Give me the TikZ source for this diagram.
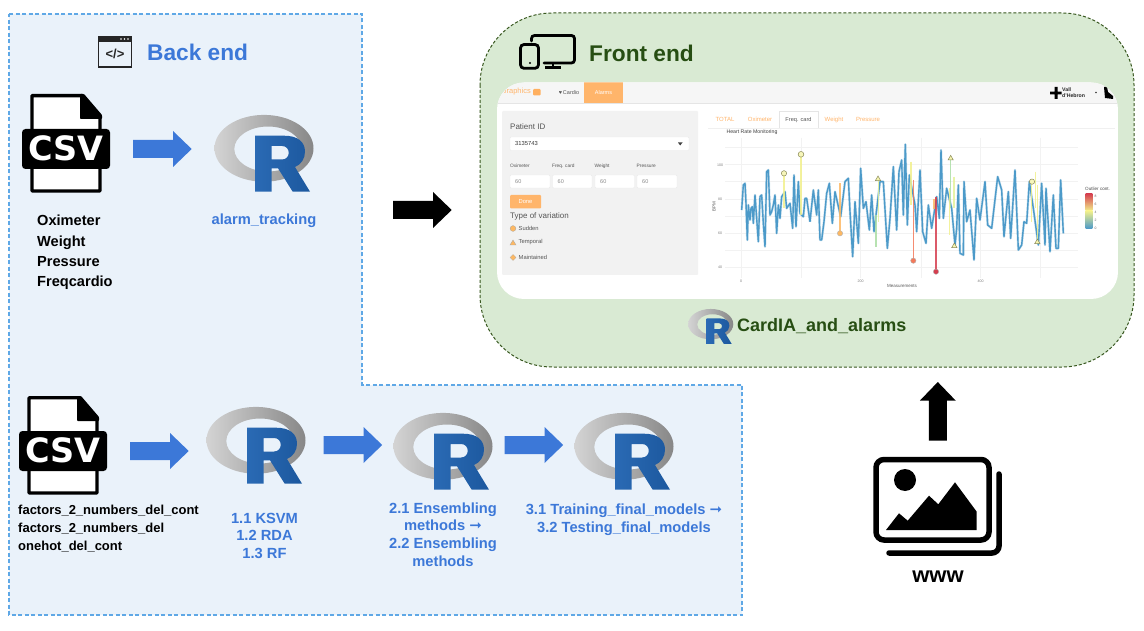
\documentclass[tikz,border=0pt]{standalone}
\usepackage{fontspec}
\setmainfont{Liberation Sans}
\newfontfamily\dejavu{DejaVu Sans}
\usetikzlibrary{shapes.geometric}
\definecolor{backfill}{HTML}{EAF2FA}
\definecolor{backedge}{HTML}{5FA8E6}
\definecolor{frontfill}{HTML}{D9EAD3}
\definecolor{frontedge}{HTML}{38571F}
\definecolor{arrowblue}{HTML}{3C78D8}
\definecolor{darkgreen}{HTML}{274E13}
\definecolor{navorange}{HTML}{FFB56B}
\definecolor{rblue}{HTML}{1F62B0}
\definecolor{shotgrey}{HTML}{555555}
\definecolor{linecol}{HTML}{4C9AC9}
\definecolor{spikeyellow}{HTML}{F2F08C}
\definecolor{spikelime}{HTML}{E4F19A}
\definecolor{spikegreen}{HTML}{ABDDA4}
\definecolor{spikeorange}{HTML}{FDB863}
\definecolor{spikecoral}{HTML}{F4795A}
\definecolor{spikered}{HTML}{D53E4F}
\definecolor{markedge}{HTML}{8A8A5A}
\newcommand{\fs}[1]{\fontsize{#1}{#1}\selectfont}
\newcommand{\fsl}[2]{\fontsize{#1}{#2}\selectfont}
\newcommand{\seriesA}{(755,405)(760,330)(765,325)(768,385)(772,495)(775,390)(780,435)(783,400)(787,395)(790,445)(795,360)(800,430)(805,500)(810,365)(815,360)(820,445)(825,515)(830,290)(835,285)(840,420)(845,410)(850,390)(855,360)(860,475)(865,390)(870,430)(875,365)(885,350)(890,400)(900,385)(908,460)(912,300)(918,455)(925,320)(930,415)(940,425)(945,370)(950,370)(960,440)}
\tikzset{
  panelback/.style={fill=backfill,draw=backedge,line width=1.1pt,dash pattern=on 4pt off 2.5pt},
  panelfront/.style={fill=frontfill,draw=frontedge,line width=1pt,dash pattern=on 3pt off 2pt},
  bluetext/.style={inner sep=0pt,text=arrowblue,align=center},
  blacktext/.style={inner sep=0pt,text=black,align=left},
  shottext/.style={inner sep=0pt,text=shotgrey,font=\fs{6}},
  shottab/.style={inner sep=0pt,text=navorange,font=\fs{6}},
  inputbox/.style={fill=white,draw=black!8,line width=.4pt,rounded corners=1pt},
  spike/.style={line width=1.3pt,opacity=.85},
  blockarrow/.pic={\fill[#1] (0,-9) -- (40,-9) -- (40,-18) -- (58.7,0) -- (40,18) -- (40,9) -- (0,9) -- cycle;},
  csvicon/.pic={
    \draw[black,line width=3.4pt,line join=round,fill=white] (10,1.7) -- (60,1.7) -- (78,22) -- (78,97) -- (10,97) -- cycle;
    \fill[black,rounded corners=.8pt] (58,0) -- (62,0) -- (80,21) -- (80,25) -- (58,25) -- cycle;
    \fill[black,rounded corners=3.5pt] (0,35) rectangle (88,75);
    \node[inner sep=0pt,text=white,font=\dejavu\fs{33.5}\bfseries] at (44,54.5) {CSV};
  },
  rlogo/.pic={
    \path[even odd rule,left color=black!17,right color=black!47]
      (50,33.3) ellipse [x radius=49.5,y radius=33.4]
      (54,34) ellipse [x radius=33.7,y radius=22.5];
    \path[even odd rule,left color=rblue!95!white,right color=rblue!90!black]
      (41,20.7) -- (70,20.7) .. controls (84,20.7) and (91,27) .. (91,36.7)
      .. controls (91,44) and (87,49.5) .. (81,52) -- (96,76.7) -- (78.7,76.7) -- (64,53.3)
      -- (57.7,53.3) -- (57.7,76.7) -- (41,76.7) -- cycle
      (57.7,31) -- (68,31) .. controls (77,31) and (77,44.5) .. (68,44.5) -- (57.7,44.5) -- cycle;
  },
}
\begin{document}
\begin{tikzpicture}[x=1pt,y=-1pt]
\useasboundingbox (0,0) rectangle (1144,631);
\fill[white] (0,0) rectangle (1144,631);
% panels
\path[panelback] (9,14) -- (362,14) -- (362,385) -- (742,385) -- (742,615) -- (9,615) -- cycle;
\path[panelfront,rounded corners=72pt] (480,13) rectangle (1134,367);
% back-end heading icon
\draw[black!85,line width=1.8pt,fill=backfill] (98.5,37) rectangle (131.5,67);
\fill[black!85] (98.5,37) rectangle (131.5,42.3);
\fill[white] (121,39) circle (.9) (124.5,39) circle (.9) (128,39) circle (.9);
\node[inner sep=0pt,font=\fs{13}\bfseries,text=black!85] (codetag) at (115,54) {</>};
\node[inner sep=0pt,font=\fs{22.7}\bfseries,text=arrowblue,anchor=west] (backtitle) at (147,52.5) {Back end};
% front-end heading icon
\draw[black,line width=2.8pt,line cap=round,rounded corners=3pt] (531.5,41) -- (531.5,35.5) -- (574.5,35.5) -- (574.5,63) -- (544,63);
\draw[black,line width=2.8pt,rounded corners=3.5pt,fill=frontfill] (520.5,44.5) rectangle (538.5,68.3);
\fill[black] (530,63) circle (1.2);
\draw[black,line width=2.6pt] (545,67.7) -- (561,67.7) (553,63) -- (553,67.7);
\node[inner sep=0pt,font=\fs{22.7}\bfseries,text=darkgreen,anchor=west] (fronttitle) at (589,53) {Front end};
% back-end top row
\pic (csvA) at (22,94) {csvicon};
\pic (arrA) at (133,149) {blockarrow=arrowblue};
\pic (logoA) at (214,115) {rlogo};
\node[blacktext,anchor=west,font=\fsl{14.6}{20.3}\bfseries] (vars) at (37,252.5) {Oximeter\\Weight\\Pressure\\Freqcardio};
\node[bluetext,font=\fs{14.7}\bfseries] (alarmtrack) at (264,221) {alarm\_tracking};
% back-end bottom row
\pic (csvB) at (19,396) {csvicon};
\pic (arrB) at (130,451) {blockarrow=arrowblue};
\pic (logoB) at (206,407) {rlogo};
\pic (arrC) at (323.5,445) {blockarrow=arrowblue};
\pic (logoC) at (393,413) {rlogo};
\pic (arrD) at (504.5,445) {blockarrow=arrowblue};
\pic (logoD) at (574,413) {rlogo};
\node[blacktext,anchor=west,font=\fsl{13}{17.7}\bfseries] (factors) at (18,528.5) {factors\_2\_numbers\_del\_cont\\factors\_2\_numbers\_del\\onehot\_del\_cont};
\node[bluetext,font=\fsl{14.7}{17.5}\bfseries] (methodsA) at (264.5,535.5) {1.1 KSVM\\1.2 RDA\\1.3 RF};
\node[bluetext,font=\fsl{14.7}{17.7}\bfseries] (methodsB) at (443,534.5) {2.1 Ensembling\\methods {\dejavu\fs{15}➞}\\2.2 Ensembling\\methods};
\node[bluetext,font=\fsl{14.7}{18}\bfseries] (methodsC) at (624,520) {3.1 Training\_final\_models {\dejavu\fs{15}➞}\\3.2 Testing\_final\_models};
% central arrow
\pic (arrMid) at (393,210) {blockarrow=black};
% screenshot
\begin{scope}
\clip[rounded corners=27pt] (497,82.5) rectangle (1118,299);
\fill[white] (497,82.5) rectangle (1118,299);
\fill[black!3.5] (497,82.5) rectangle (1118,103);
\draw[black!10,line width=.4pt] (497,103) -- (1118,103);
\node[inner sep=0pt,text=navorange,font=\fs{7.5},anchor=east] (navbrand) at (531,92) {Graphics};
\fill[navorange!90!orange,rounded corners=1pt] (533,89) rectangle (540.5,95.5);
\node[shottext,font=\fs{5.5}] (navcard) at (569,92.2) {♥\,Cardio};
\fill[navorange] (584.3,82.5) rectangle (623,103);
\node[inner sep=0pt,text=white,font=\fs{5.5}] (navalarm) at (603.5,92.2) {Alarms};
\node[inner sep=0pt,font=\fsl{5.2}{5.4}\bfseries,align=left,anchor=west,text=black!85] (vall) at (1062,92.5) {Vall\\d'Hebron};
\fill[black] (1054.5,87) rectangle (1057.5,99) (1050,91.7) rectangle (1061.5,94.3);
\fill[black!80] (1096,92.5) circle (.8);
\fill[black] (1104,87) -- (1107,87) -- (1108,92) -- (1113,96) -- (1113,99) -- (1105,98) -- cycle;
% left form
\fill[black!5,rounded corners=1pt] (502,111) rectangle (698,275);
\node[shottext,anchor=west,font=\fs{8}] (patient) at (510,127) {Patient ID};
\path[inputbox] (510,137) rectangle (689,150.5);
\node[shottext,anchor=west,font=\fs{5.8},text=black!80] (pid) at (515,144) {3135743};
\fill[black!75] (678,142.5) -- (682.5,142.5) -- (680.2,145.5) -- cycle;
\node[shottext,anchor=west,font=\fs{4.8}] (lblA) at (510,166) {Oximeter};
\node[shottext,anchor=west,font=\fs{4.8}] (lblB) at (552,166) {Freq. card};
\node[shottext,anchor=west,font=\fs{4.8}] (lblC) at (594.5,166) {Weight};
\node[shottext,anchor=west,font=\fs{4.8}] (lblD) at (636.5,166) {Pressure};
\path[inputbox] (510,175) rectangle (550,188);
\path[inputbox] (552.5,175) rectangle (592,188);
\path[inputbox] (595,175) rectangle (634.5,188);
\path[inputbox] (637,175) rectangle (677,188);
\node[shottext,anchor=west,font=\fs{5.5},text=black!45] (valA) at (515,181.5) {60};
\node[shottext,anchor=west,font=\fs{5.5},text=black!45] (valB) at (557.5,181.5) {60};
\node[shottext,anchor=west,font=\fs{5.5},text=black!45] (valC) at (600,181.5) {60};
\node[shottext,anchor=west,font=\fs{5.5},text=black!45] (valD) at (642,181.5) {60};
\fill[navorange,rounded corners=1pt] (510,195) rectangle (541,208.5);
\node[inner sep=0pt,text=white,font=\fs{5.8}] (done) at (525.5,201.8) {Done};
\node[shottext,anchor=west,font=\fs{8}] (typeof) at (510,216.5) {Type of variation};
\fill[spikeorange,draw=black!35,line width=.3pt] (513,228.5) circle (2.9);
\fill[spikeorange,draw=black!35,line width=.3pt] (510,245) -- (516,245) -- (513,240) -- cycle;
\fill[spikeorange,draw=black!35,line width=.3pt] (513,254.5) -- (516,257.5) -- (513,260.5) -- (510,257.5) -- cycle;
\node[shottext,anchor=west,font=\fs{5.8}] (sudden) at (518.5,228.5) {Sudden};
\node[shottext,anchor=west,font=\fs{5.8}] (temporal) at (518.5,242.5) {Temporal};
\node[shottext,anchor=west,font=\fs{5.8}] (maintained) at (518.5,257) {Maintained};
% tabs
\draw[black!6,line width=.4pt] (708,128) -- (1115,128);
\fill[white] (779,111) rectangle (818,128.5);
\draw[black!10,line width=.4pt] (779,128) -- (779,111) -- (818,111) -- (818,128);
\node[shottab] (tabA) at (725,119.7) {TOTAL};
\node[shottab] (tabB) at (760,119.7) {Oximeter};
\node[shottext,font=\fs{5.6}] (tabC) at (798.5,119.7) {Freq. card};
\node[shottab] (tabD) at (834,119.7) {Weight};
\node[shottab] (tabE) at (868,119.7) {Pressure};
\node[inner sep=0pt,font=\fs{5.2},text=black!75] (charttitle) at (752,132.5) {Heart Rate Monitoring};
% grid
\foreach \gy in {147.3,164.3,181.7,199,216,233.3,250.7,267.7}
  \draw[black!5,line width=.5pt] (725,\gy) -- (1078,\gy);
\foreach \gx in {741,801.7,860.7,921,980,1040.6}
  \draw[black!5,line width=.5pt] (\gx,138) -- (\gx,278);
\foreach \lb/\ly in {100/165,80/199,60/233,40/267}
  \node[inner sep=0pt,font=\fs{3.6},text=black!50] at (720,\ly) {\lb};
\foreach \lb/\lx in {0/741,200/860.7,400/980.5}
  \node[inner sep=0pt,font=\fs{3.6},text=black!50] at (\lx,281) {\lb};
\node[inner sep=0pt,font=\fs{4.5},text=black!65,rotate=90] (bpm) at (714,207) {BPM};
\node[inner sep=0pt,font=\fs{4.5},text=black!65] (measure) at (902,286) {Measurements};
% series, zoom-1 coordinates
\begin{scope}[x=.33333pt,y=-.33333pt,xshift=490pt,yshift=-75pt]
\draw[linecol,line width=2.4pt,opacity=.3,line join=round] plot coordinates {\seriesA};
\draw[linecol,line width=1.4pt,line join=round] plot coordinates {\seriesA};
\draw[spike,spikeyellow] (882,295) -- (882,400);
\draw[spike,spikeyellow] (933,238) -- (933,420);
\fill[spikeyellow!60!white,draw=markedge,line width=.5pt] (882,295) circle (8);
\fill[spikeyellow!60!white,draw=markedge,line width=.5pt] (933,238) circle (8.5);
\end{scope}
% series, zoom-2 coordinates
\begin{scope}[x=.33333pt,y=-.33333pt,xshift=800pt,yshift=-75pt]
\foreach \pw/\po in {2.4pt/.3,1.4pt/1}
\draw[linecol,line width=\pw,opacity=\po,line join=round] plot coordinates {(30,440)(40,345)(50,420)(55,345)(60,495)(65,495)(72,440)(80,355)(88,325)(97,445)(105,350)(122,425)(135,320)(145,310)(150,410)(158,545)(165,380)(175,505)(182,280)(190,400)(198,380)(208,465)(215,360)(222,470)(240,320)(250,320)(262,520)(270,430)(280,275)(290,465)(297,290)(305,255)(310,420)(316,208)(322,450)(328,300)(345,390)(350,470)(360,285)(368,470)(378,505)(385,390)(395,460)(410,365)(418,430)(423,225)(430,430)(440,340)(455,400)(465,510)(470,460)(475,330)(480,535)(490,540)(492,320)(500,440)(510,405)(522,555)(530,370)(540,435)(555,320)(563,450)(575,460)(593,305)(605,345)(612,485)(625,350)(632,490)(645,285)(655,525)(665,510)(672,440)(680,445)(688,320)(700,400)(715,510)(725,325)(735,510)(738,340)(750,530)(760,360)(768,520)(775,520)(782,315)(790,475)};
\draw[spike,spikeorange] (120,325) -- (120,475);
\draw[spike,spikegreen] (228,420) -- (228,515);
\draw[spike,spikelime] (235,310) -- (235,440);
\draw[spike,spikeyellow] (333,260) -- (333,390);
\draw[spike,spikecoral] (340,315) -- (340,557);
\draw[spike,spikeorange] (402,372) -- (402,402);
\draw[spike,spikered] (408,365) -- (408,590);
\draw[spike,spikegreen] (452,248) -- (452,400);
\draw[spike,spikeyellow] (448,340) -- (448,480);
\draw[spike,spikelime] (462,305) -- (462,400);
\draw[spike,spikeyellow] (695,320) -- (695,440);
\draw[spike,spikeyellow] (707,290) -- (707,400);
\draw[spike,spikeyellow] (712,330) -- (712,500);
\fill[spikeorange,draw=black!30,line width=.4pt] (120,475) circle (8);
\fill[spikecoral,draw=black!30,line width=.4pt] (340,557) circle (8);
\fill[spikered,draw=black!30,line width=.4pt] (408,590) circle (8);
\fill[spikeyellow!60!white,draw=markedge,line width=.5pt] (696,320) circle (8);
\foreach \tx/\ty in {234/310,452/248,463/511,712/499}
  \fill[spikeyellow!70!white,draw=markedge,line width=.5pt] (\tx-8,\ty+7) -- (\tx+8,\ty+7) -- (\tx,\ty-7) -- cycle;
\end{scope}
% legend
\node[inner sep=0pt,font=\fs{4.6},text=black!70,anchor=west] (legendtitle) at (1085,188.5) {Outlier cont.};
\shade[top color=spikered,bottom color=spikeyellow] (1085.5,193.5) rectangle (1092.3,211);
\shade[top color=spikeyellow,bottom color=linecol] (1085.5,211) rectangle (1092.3,228.5);
\foreach \lb/\ly in {8/196.5,6/204.5,4/212.5,2/220,0/228}
  \node[inner sep=0pt,font=\fs{3.4},text=black!60] at (1095.5,\ly) {\lb};
\end{scope}
% screenshot caption
\pic[scale=.455] (logoE) at (688,309) {rlogo};
\node[inner sep=0pt,font=\fs{18}\bfseries,text=darkgreen,anchor=west] (cardia) at (737,326) {CardIA\_and\_alarms};
% www group
\pic[rotate=90] (arrUp) at (937.8,440.7) {blockarrow=black};
\draw[black,line width=5.5pt,line cap=round,rounded corners=7pt] (999,474) -- (999,553) -- (889,553);
\draw[black,line width=5.5pt,rounded corners=8pt,fill=white] (876,459.5) rectangle (989,540);
\fill[black] (905,480) circle (11);
\fill[black] (886,530) -- (899,513.3) -- (907.7,520.7) -- (929,495.7) -- (938.3,504.3) -- (955,482.3) -- (976.7,511.7) -- (976.7,530) -- cycle;
\node[inner sep=0pt,font=\fs{22}\bfseries,text=black] (www) at (938,576.5) {www};
\end{tikzpicture}
\end{document}
